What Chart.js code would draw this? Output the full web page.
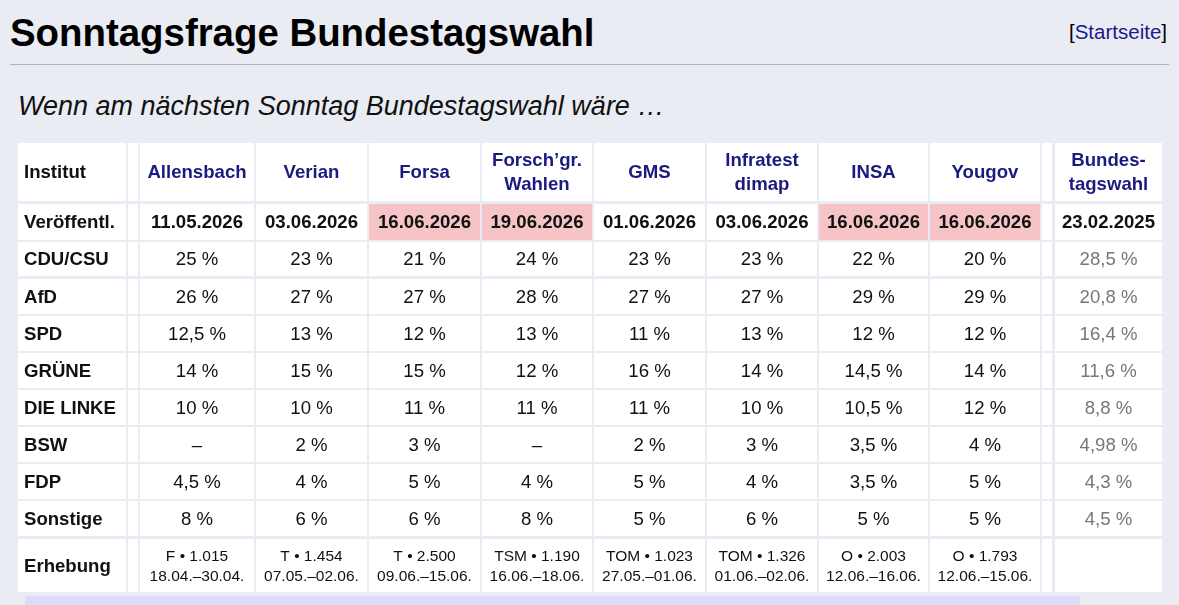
<!DOCTYPE html>
<html><head><meta charset="utf-8">
<script src="https://cdn.jsdelivr.net/npm/chart.js@4/dist/chart.umd.min.js"></script>
<style>
body{margin:0;background:#eaecf4;font-family:"Liberation Sans",Arial,sans-serif;width:1179px;height:605px;overflow:hidden;position:relative}
#t{position:absolute;left:10px;top:11px;font-size:38.4px;font-weight:bold;color:#000}
#s{position:absolute;right:12px;top:20px;font-size:20.5px;color:#000}
#s a{color:#1a1a8c;text-decoration:none}
#hr{position:absolute;left:10px;top:64px;width:1159px;height:1px;background:#a7b4d0}
#h{position:absolute;left:18px;top:91px;font-size:27px;font-style:italic;color:#111}
#bar{position:absolute;left:25px;top:596px;width:1055px;height:12px;background:#dcdcf8}
#c{position:absolute;left:18px;top:143px}
</style></head><body>
<div id="t">Sonntagsfrage Bundestagswahl</div>
<div id="s">[<a>Startseite</a>]</div>
<div id="hr"></div>
<div id="h">Wenn am nächsten Sonntag Bundestagswahl wäre …</div>
<canvas id="c" width="1144" height="449"></canvas>
<div id="bar"></div>
<script>
const institutes=["Allensbach","Verian","Forsa","Forsch’gr.\nWahlen","GMS","Infratest\ndimap","INSA","Yougov"];
const published=["11.05.2026","03.06.2026","16.06.2026","19.06.2026","01.06.2026","03.06.2026","16.06.2026","16.06.2026"];
const highlighted=[false,false,true,true,false,false,true,true];
const parties=["CDU/CSU","AfD","SPD","GRÜNE","DIE LINKE","BSW","FDP","Sonstige"];
const values=[
["25 %","23 %","21 %","24 %","23 %","23 %","22 %","20 %"],
["26 %","27 %","27 %","28 %","27 %","27 %","29 %","29 %"],
["12,5 %","13 %","12 %","13 %","11 %","13 %","12 %","12 %"],
["14 %","15 %","15 %","12 %","16 %","14 %","14,5 %","14 %"],
["10 %","10 %","11 %","11 %","11 %","10 %","10,5 %","12 %"],
["–","2 %","3 %","–","2 %","3 %","3,5 %","4 %"],
["4,5 %","4 %","5 %","4 %","5 %","4 %","3,5 %","5 %"],
["8 %","6 %","6 %","8 %","5 %","6 %","5 %","5 %"]];
const election=["28,5 %","20,8 %","16,4 %","11,6 %","8,8 %","4,98 %","4,3 %","4,5 %"];
const electionDate="23.02.2025";
const surveys=["F • 1.015\n18.04.–30.04.","T • 1.454\n07.05.–02.06.","T • 2.500\n09.06.–15.06.","TSM • 1.190\n16.06.–18.06.","TOM • 1.023\n27.05.–01.06.","TOM • 1.326\n01.06.–02.06.","O • 2.003\n12.06.–16.06.","O • 1.793\n12.06.–15.06."];
// layout (column / row edges in table units)
const colEdges=[[0,108],[110,120],[122,236],[238,349],[351,462],[464,574],[576,687],[689,799],[801,910],[912,1022],[1024,1034],[1037,1144]];
const rowEdges=[[0,58],[61,97],[99,133],[136,171],[173,208],[210,245],[247,282],[284,319],[321,356],[358,393],[396,449]];

function buildRows(){
  const rows=[];
  rows.push([{t:"Institut",b:1,l:1},{},...institutes.map(s=>({t:s,b:1,c:"#1a1a80"})),{},{t:"Bundes-\ntagswahl",b:1,c:"#1a1a80"}]);
  rows.push([{t:"Veröffentl.",b:1,l:1},{},...published.map((s,i)=>({t:s,b:1,bg:highlighted[i]?"#f6c4c6":null})),{},{t:electionDate,b:1}]);
  parties.forEach((p,r)=>rows.push([{t:p,b:1,l:1},{},...values[r].map(v=>({t:v})),{},{t:election[r],c:"#777"}]));
  rows.push([{t:"Erhebung",b:1,l:1},{},...surveys.map(s=>({t:s,sm:1})),{},{}]);
  return rows;
}
const tablePlugin={id:"tbl",afterDraw(ch){
  const g=ch.ctx,x=ch.scales.x,y=ch.scales.y,rows=buildRows();
  rows.forEach((row,ri)=>{
    const [t0,t1]=rowEdges[ri];const py0=y.getPixelForValue(t0),py1=y.getPixelForValue(t1);
    row.forEach((cell,ci)=>{
      const [c0,c1]=colEdges[ci];const px0=x.getPixelForValue(c0),px1=x.getPixelForValue(c1);
      g.fillStyle=cell.bg||"#fff";g.fillRect(px0,py0,px1-px0,py1-py0);
      if(!cell.t)return;
      const lines=cell.t.split("\n");const fs=cell.sm?15.5:18.6,lh=cell.sm?20:24;
      g.font=(cell.b?"bold ":"")+fs+"px 'Liberation Sans',Arial,sans-serif";
      g.fillStyle=cell.c||"#111";g.textBaseline="middle";
      g.textAlign=cell.l?"left":"center";
      const tx=cell.l?px0+6:(px0+px1)/2,cy=(py0+py1)/2+1;
      lines.forEach((ln,k)=>g.fillText(ln,tx,cy+(k-(lines.length-1)/2)*lh));
    });
  });
}};
new Chart(document.getElementById("c"),{type:"scatter",data:{datasets:[{data:[]}]},
 options:{responsive:false,animation:false,layout:{padding:0},
  plugins:{legend:{display:false},tooltip:{enabled:false}},
  scales:{x:{type:"linear",min:0,max:1144,display:false},y:{type:"linear",min:0,max:449,reverse:true,display:false}}},
 plugins:[tablePlugin]});
</script></body></html>
